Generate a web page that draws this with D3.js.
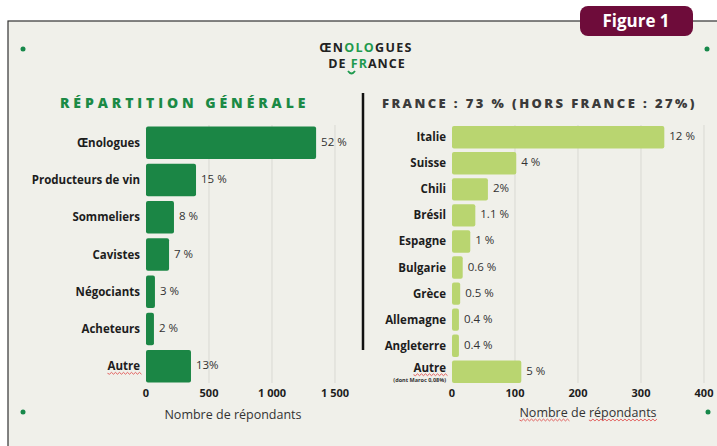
<!DOCTYPE html>
<html>
<head>
<meta charset="utf-8">
<script src="https://cdn.jsdelivr.net/npm/d3@7"></script>
<style>
  body { margin:0; background:#fff; }
  text { font-family:"Open Sans", sans-serif; }
</style>
</head>
<body>
<script>
// répartition générale
var metiers = ["Œnologues","Producteurs de vin","Sommeliers","Cavistes","Négociants","Acheteurs","Autre"];
var metiersN = [1350, 397, 222, 183, 71, 63, 357];
var metiersPct = ["52 %","15 %","8 %","7 %","3 %","2 %","13%"];
var metiersTicks = [0, 500, 1000, 1500];
var metiersTickLabels = ["0","500","1 000","1 500"];

// hors france
var pays = ["Italie","Suisse","Chili","Brésil","Espagne","Bulgarie","Grèce","Allemagne","Angleterre","Autre"];
var paysN = [337, 102, 57, 37, 29, 17, 13, 11, 11, 110];
var paysPct = ["12 %","4 %","2%","1.1 %","1 %","0.6 %","0.5 %","0.4 %","0.4 %","5 %"];
var paysTicks = [0, 100, 200, 300, 400];

var width = 717, height = 446;
var svg = d3.select("body").append("svg").attr("width",width).attr("height",height);

// soulignement rouge façon correcteur, sous un texte ou tspan
function squiggle(node, g){
  var n = node.getNumberOfChars();
  var s = node.getStartPositionOfChar(0), e = node.getEndPositionOfChar(n-1);
  var yy = s.y + 3, p = "M" + s.x + "," + yy;
  for(var xx = s.x, k = 0; xx < e.x; xx += 2, k++){
    p += " L" + (xx+2) + "," + (yy + (k % 2 ? -0.9 : 0.9));
  }
  g.append("path").attr("d",p).attr("fill","none").attr("stroke","#e0504f").attr("stroke-width",0.9);
}

// cadre
svg.append("rect").attr("x",8).attr("y",21).attr("width",width).attr("height",height)
  .attr("fill","#f0f0ea").attr("stroke","#333").attr("stroke-width",1.2);

// badge Figure 1
svg.append("rect").attr("x",580).attr("y",6).attr("width",113).attr("height",30).attr("rx",8)
  .attr("fill","#6e0c3a");
svg.append("text").attr("x",636).attr("y",27).attr("text-anchor","middle")
  .attr("fill","#fff").attr("font-size",17).attr("font-weight",700).text("Figure 1");

// points verts
[[23,49],[707,49],[23,412],[708,412]].forEach(function(p){
  svg.append("circle").attr("cx",p[0]).attr("cy",p[1]).attr("r",2.5).attr("fill","#17884a");
});

// logo
var logo = svg.append("g").attr("font-family","Roboto, sans-serif").attr("font-weight",700)
  .attr("text-anchor","middle").attr("fill","#222");
var l1 = logo.append("text").attr("x",366).attr("y",52).attr("font-size",12.5).attr("letter-spacing",1.3);
l1.append("tspan").text("ŒN");
l1.append("tspan").attr("fill","#1f9a4e").text("OLO");
l1.append("tspan").text("GUES");
var l2 = logo.append("text").attr("x",367).attr("y",67.5).attr("font-size",12.5).attr("letter-spacing",1);
l2.append("tspan").text("DE ");
l2.append("tspan").attr("fill","#1f9a4e").text("FR");
l2.append("tspan").text("ANCE");
logo.append("path").attr("d","M348,71 q3.5,5 7,0").attr("fill","none").attr("stroke","#1f9a4e").attr("stroke-width",1.8);

// titres
svg.append("text").attr("x",60).attr("y",108).attr("font-size",14).attr("font-weight",800)
  .attr("letter-spacing",3.9).attr("fill","#1b8a45").text("RÉPARTITION GÉNÉRALE");
svg.append("text").attr("x",382).attr("y",108).attr("font-size",13).attr("font-weight",800)
  .attr("letter-spacing",2.4).attr("fill","#3b3b3b").text("FRANCE : 73 % (HORS FRANCE : 27%)");

// séparateur
svg.append("line").attr("x1",363).attr("x2",363).attr("y1",93).attr("y2",350)
  .attr("stroke","#111").attr("stroke-width",2.5);

function barChart(opt){
  var x = d3.scaleLinear().domain(opt.domain).range(opt.xr);
  var y = d3.scaleBand().domain(opt.cats).range([125,384]).paddingInner(opt.pad).paddingOuter(0.04);
  var g = svg.append("g");

  g.selectAll(".grid").data(opt.ticks.slice(1)).enter().append("line")
    .attr("x1",function(d){ return x(d); }).attr("x2",function(d){ return x(d); })
    .attr("y1",125).attr("y2",383).attr("stroke","#d9d9d3").attr("stroke-width",1);

  g.selectAll(".bar").data(opt.vals).enter().append("rect")
    .attr("x",x(0)).attr("y",function(d,i){ return y(opt.cats[i]); })
    .attr("width",function(d){ return x(d)-x(0); }).attr("height",y.bandwidth())
    .attr("rx",2).attr("fill",opt.color);

  g.selectAll(".val").data(opt.vals).enter().append("text")
    .attr("x",function(d){ return x(d)+5; })
    .attr("y",function(d,i){ return y(opt.cats[i])+y.bandwidth()/2-1; })
    .attr("dy","0.35em").attr("font-size",11.5).attr("fill","#333")
    .text(function(d,i){ return opt.pct[i]; });

  g.selectAll(".cat").data(opt.cats).enter().append("text")
    .attr("x",x(0)-6).attr("y",function(d){ return y(d)+y.bandwidth()/2+4-(d=="Autre"&&opt.note?4:0); })
    .attr("text-anchor","end").attr("font-size",11.5).attr("font-weight",700)
    .attr("fill","#1d1d1d")
    .text(function(d){ return d; })
    .filter(function(d){ return d=="Autre"; }).each(function(){ squiggle(this, g); });

  if(opt.note){
    g.append("text").attr("x",x(0)-6).attr("y",y("Autre")+y.bandwidth()/2+10)
      .attr("text-anchor","end").attr("font-size",5.5).attr("font-weight",700).attr("fill","#333")
      .text(opt.note);
  }

  g.selectAll(".tick").data(opt.ticks).enter().append("text")
    .attr("x",function(d){ return x(d); }).attr("y",397).attr("text-anchor","middle")
    .attr("font-size",11).attr("font-weight",700).attr("fill","#1d1d1d")
    .text(function(d,i){ return opt.tickLabels[i]; });

  var t = g.append("text").attr("x",opt.titleX).attr("y",opt.titleY).attr("text-anchor","middle")
    .attr("font-size",12.5).attr("fill","#333");
  if(opt.squiggle){
    var a = t.append("tspan").text("Nombre");
    t.append("tspan").text(" de ");
    var b = t.append("tspan").text("répondants");
    squiggle(a.node(), g);
    squiggle(b.node(), g);
  } else {
    t.text("Nombre de répondants");
  }
}

barChart({cats:metiers, vals:metiersN, pct:metiersPct, domain:[0,1500], xr:[146,335],
  ticks:metiersTicks, tickLabels:metiersTickLabels, color:"#1b8645", pad:0.13,
  titleX:233, titleY:419});

barChart({cats:pays, vals:paysN, pct:paysPct, domain:[0,400], xr:[452,704],
  ticks:paysTicks, tickLabels:paysTicks.map(String), color:"#b9d570", pad:0.14,
  note:"(dont Maroc 0,08%)", titleX:588, titleY:417, squiggle:true});
</script>
</body>
</html>
